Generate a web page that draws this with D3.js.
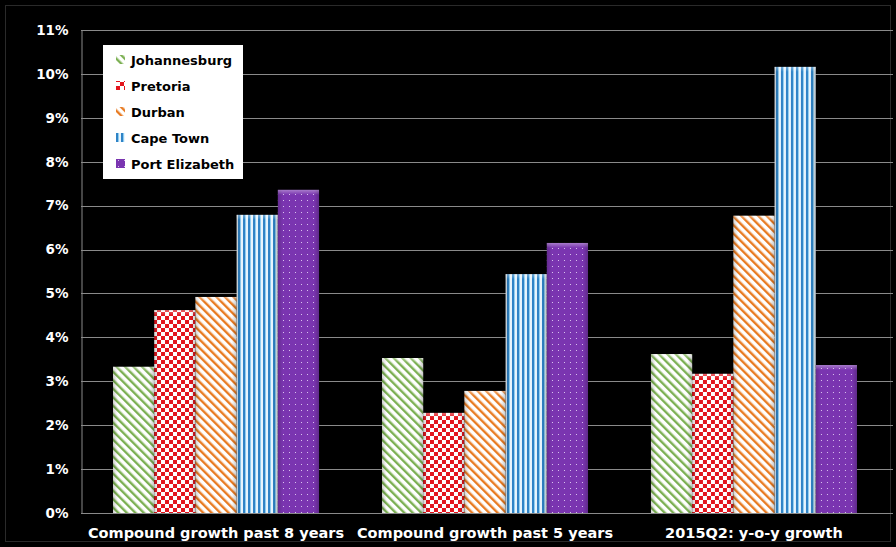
<!DOCTYPE html>
<html>
<head>
<meta charset="utf-8">
<script src="https://cdn.jsdelivr.net/npm/d3@7/dist/d3.min.js"></script>
<style>
  html, body { margin: 0; padding: 0; background: #000; }
  svg { display: block; }
  text { font-family: "DejaVu Sans", Verdana, sans-serif; font-weight: bold; }
</style>
</head>
<body>
<svg id="chart" width="896" height="547"></svg>
<script>
// Growth measures (x-axis groups)
const categories = ["Compound growth past 8 years", "Compound growth past 5 years", "2015Q2: y-o-y growth"];
// Cities (series)
const cities = ["Johannesburg", "Pretoria", "Durban", "Cape Town", "Port Elizabeth"];
// Growth rates in percent, one array per city, ordered as categories
const johannesburg = [3.33, 3.53, 3.62];
const pretoria     = [4.62, 2.28, 3.17];
const durban       = [4.92, 2.78, 6.77];
const capeTown     = [6.79, 5.44, 10.16];
const portElizabeth = [7.36, 6.15, 3.37];
const seriesValues = [johannesburg, pretoria, durban, capeTown, portElizabeth];
// Y-axis ticks (percent)
const yTicks = d3.range(0, 12, 1);

const W = 896, H = 547;
const margin = { left: 81, right: 3, top: 30, bottom: 34 };
const svg = d3.select("#chart");

// ---------- fill patterns ----------
const defs = svg.append("defs");

function diagStripes(id, color) {
  const p = defs.append("pattern").attr("id", id)
    .attr("patternUnits", "userSpaceOnUse").attr("width", 6).attr("height", 6)
    .attr("patternTransform", "rotate(-45)");
  p.append("rect").attr("width", 6).attr("height", 6).attr("fill", "#fff");
  p.append("rect").attr("width", 2.4).attr("height", 6).attr("fill", color);
}
diagStripes("pat-jhb", "#7cb053");
diagStripes("pat-dbn", "#e87b22");

(function checker() {
  const p = defs.append("pattern").attr("id", "pat-pta")
    .attr("patternUnits", "userSpaceOnUse").attr("width", 8).attr("height", 8);
  p.append("rect").attr("width", 8).attr("height", 8).attr("fill", "#fff");
  p.append("rect").attr("width", 4).attr("height", 4).attr("fill", "#e3151d");
  p.append("rect").attr("x", 4).attr("y", 4).attr("width", 4).attr("height", 4).attr("fill", "#e3151d");
})();

(function vertStripes() {
  const p = defs.append("pattern").attr("id", "pat-cpt")
    .attr("patternUnits", "userSpaceOnUse").attr("width", 5).attr("height", 5);
  p.append("rect").attr("width", 5).attr("height", 5).attr("fill", "#e8f4fc");
  p.append("rect").attr("x", 0).attr("width", 2).attr("height", 5).attr("fill", "#2f83c6");
  p.append("rect").attr("x", 2).attr("width", 1).attr("height", 5).attr("fill", "#8fcdf0");
})();

(function dots() {
  const p = defs.append("pattern").attr("id", "pat-pe")
    .attr("patternUnits", "userSpaceOnUse").attr("width", 6).attr("height", 6);
  p.append("rect").attr("width", 6).attr("height", 6).attr("fill", "#7a35b0");
  p.append("rect").attr("x", 2).attr("y", 2).attr("width", 1).attr("height", 1).attr("fill", "#d9c2ee");
})();

// soft bevel along the top of each bar
const bevel = defs.append("linearGradient").attr("id", "bevel")
  .attr("x1", 0).attr("y1", 0).attr("x2", 0).attr("y2", 1);
bevel.append("stop").attr("offset", "0").attr("stop-color", "#fff").attr("stop-opacity", 0.35);
bevel.append("stop").attr("offset", "1").attr("stop-color", "#fff").attr("stop-opacity", 0);
const sideShade = defs.append("linearGradient").attr("id", "side")
  .attr("x1", 0).attr("y1", 0).attr("x2", 1).attr("y2", 0);
sideShade.append("stop").attr("offset", "0").attr("stop-color", "#000").attr("stop-opacity", 0.18);
sideShade.append("stop").attr("offset", "0.12").attr("stop-color", "#000").attr("stop-opacity", 0);
sideShade.append("stop").attr("offset", "0.88").attr("stop-color", "#000").attr("stop-opacity", 0);
sideShade.append("stop").attr("offset", "1").attr("stop-color", "#000").attr("stop-opacity", 0.22);

const fills = ["url(#pat-jhb)", "url(#pat-pta)", "url(#pat-dbn)", "url(#pat-cpt)", "url(#pat-pe)"];

// ---------- scales ----------
const x0 = d3.scaleBand().domain(categories)
  .range([margin.left, 889]).paddingInner(0.234).paddingOuter(0.119);
const x1 = d3.scaleBand().domain(cities).range([0, x0.bandwidth()]).padding(0);
const y = d3.scaleLinear().domain([0, 11]).range([H - margin.bottom, margin.top]);

// outer frame
svg.append("rect").attr("x", 5.5).attr("y", 5.5).attr("width", W - 11).attr("height", H - 11)
  .attr("fill", "none").attr("stroke", "#2a2a2a");

// gridlines
svg.append("g").selectAll("line").data(yTicks.filter(d => d > 0)).join("line")
  .attr("x1", margin.left).attr("x2", W - margin.right)
  .attr("y1", d => Math.round(y(d)) + 0.5).attr("y2", d => Math.round(y(d)) + 0.5)
  .attr("stroke", "#8a8a8a").attr("stroke-width", 1);

// y axis
const yAxis = svg.append("g").attr("transform", `translate(${margin.left + 0.5},0)`)
  .call(d3.axisLeft(y).tickValues(yTicks).tickFormat(d => d + "%").tickSize(0).tickPadding(13));
yAxis.select(".domain").attr("stroke", "#8a8a8a");
yAxis.selectAll("text").attr("fill", "#fff").style("font-size", "13.5px")
  .style("font-family", "'DejaVu Sans', Verdana, sans-serif").style("font-weight", "bold");

// bars
const groups = svg.append("g").selectAll("g").data(categories).join("g")
  .attr("transform", d => `translate(${x0(d)},0)`);

groups.each(function (cat, ci) {
  const g = d3.select(this);
  const rows = cities.map((c, si) => ({ city: c, si, v: seriesValues[si][ci] }));
  const bw = x1.bandwidth();
  g.selectAll("rect.bar").data(rows).join("rect").attr("class", "bar")
    .attr("x", d => x1(d.city)).attr("width", bw)
    .attr("y", d => y(d.v)).attr("height", d => y(0) - y(d.v))
    .attr("fill", d => fills[d.si]);
  g.selectAll("rect.shade").data(rows).join("rect").attr("class", "shade")
    .attr("x", d => x1(d.city)).attr("width", bw)
    .attr("y", d => y(d.v)).attr("height", d => y(0) - y(d.v))
    .attr("fill", "url(#side)");
  g.selectAll("rect.top").data(rows).join("rect").attr("class", "top")
    .attr("x", d => x1(d.city)).attr("width", bw)
    .attr("y", d => y(d.v)).attr("height", 5)
    .attr("fill", "url(#bevel)");
});

// x axis baseline
svg.append("line").attr("x1", margin.left).attr("x2", W - margin.right)
  .attr("y1", Math.round(y(0)) + 0.5).attr("y2", Math.round(y(0)) + 0.5)
  .attr("stroke", "#8a8a8a");

// category labels
svg.append("g").selectAll("text").data(categories).join("text")
  .attr("x", d => x0(d) + x0.bandwidth() / 2).attr("y", 538)
  .attr("text-anchor", "middle").attr("fill", "#fff")
  .style("font-size", "14.5px").text(d => d);

// legend
const lg = svg.append("g").attr("transform", "translate(103,45)");
lg.append("rect").attr("width", 140).attr("height", 134).attr("fill", "#fff");
const items = lg.selectAll("g").data(cities).join("g")
  .attr("transform", (d, i) => `translate(13,${15 + i * 26})`);
items.append("rect").attr("x", 0).attr("y", -5).attr("width", 9).attr("height", 9)
  .attr("fill", (d, i) => fills[i]);
items.append("text").attr("x", 15).attr("y", 5).attr("fill", "#000")
  .style("font-size", "13px").text(d => d);
</script>
</body>
</html>
